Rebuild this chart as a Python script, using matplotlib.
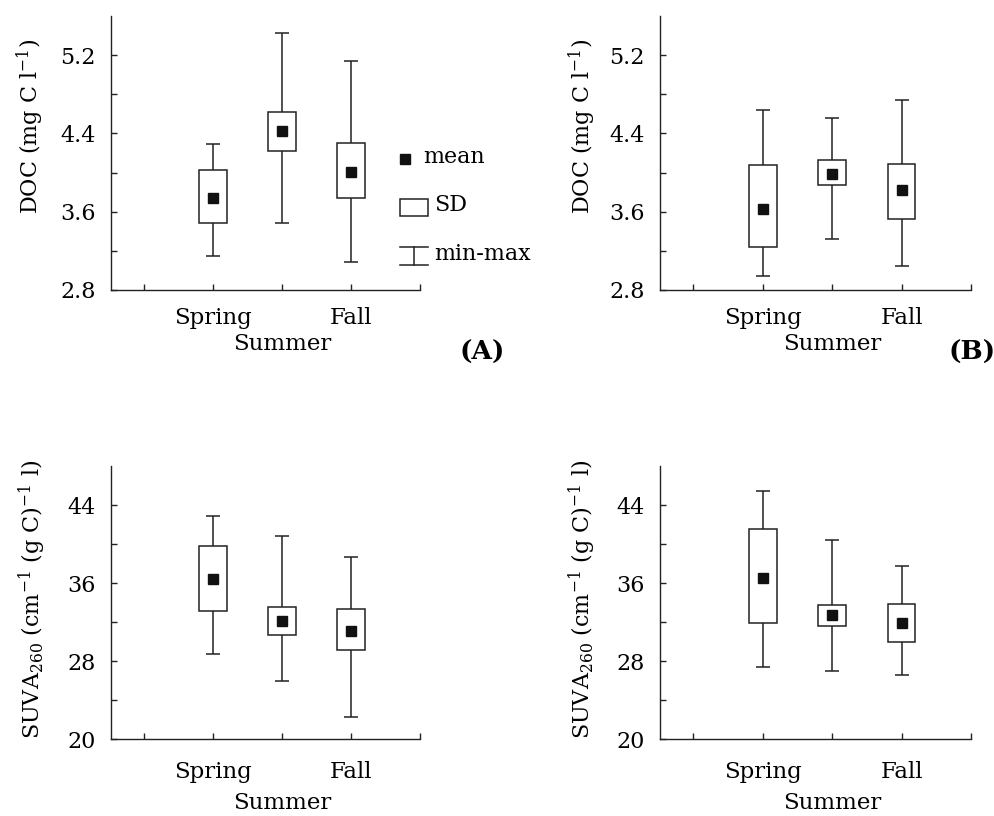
import matplotlib
matplotlib.use("Agg")
import matplotlib.pyplot as plt
from matplotlib.lines import Line2D
from matplotlib.patches import Rectangle

plt.rcParams['font.family'] = ['DejaVu Serif']
plt.rcParams['mathtext.fontset'] = 'dejavuserif'

categories = ['Spring', 'Summer', 'Fall']
positions = [1, 2, 3]

# Panel A: DOC
doc_a_min = [3.15, 3.48, 3.09]
doc_a_sdlo = [3.48, 4.22, 3.74]
doc_a_mean = [3.74, 4.42, 4.01]
doc_a_sdhi = [4.03, 4.62, 4.30]
doc_a_max = [4.29, 5.43, 5.14]

# Panel B: DOC
doc_b_min = [2.94, 3.32, 3.05]
doc_b_sdlo = [3.24, 3.87, 3.53]
doc_b_mean = [3.63, 3.99, 3.82]
doc_b_sdhi = [4.08, 4.13, 4.09]
doc_b_max = [4.64, 4.56, 4.74]

# Panel C: SUVA260
suva_c_min = [28.75, 26.0, 22.3]
suva_c_sdlo = [33.1, 30.7, 29.1]
suva_c_mean = [36.4, 32.1, 31.1]
suva_c_sdhi = [39.8, 33.5, 33.3]
suva_c_max = [42.9, 40.8, 38.7]

# Panel D: SUVA260
suva_d_min = [27.35, 27.0, 26.6]
suva_d_sdlo = [31.9, 31.6, 30.0]
suva_d_mean = [36.5, 32.75, 31.9]
suva_d_sdhi = [41.5, 33.7, 33.85]
suva_d_max = [45.4, 40.4, 37.7]

doc_ticks = [2.8, 3.6, 4.4, 5.2]
suva_ticks = [20, 28, 36, 44]

W, H = 995, 816
fig = plt.figure(figsize=(W / 100, H / 100), dpi=100)
LC = '#222222'
FS = 16
XFS = 16.5


def px_axes(left, right, top, bottom):
    return fig.add_axes([left / W, 1 - bottom / H, (right - left) / W, (bottom - top) / H])


def draw_panel(ax, mn, lo, mean, hi, mx, ylim, yticks, minor, pad1, pad2):
    bw, cw = 0.4, 0.2
    ax.bar(positions, [h - l for h, l in zip(hi, lo)], bottom=lo, width=bw,
           facecolor='white', edgecolor=LC, linewidth=1.1, zorder=3)
    ax.vlines(positions, hi, mx, color=LC, linewidth=1.1, zorder=2)
    ax.vlines(positions, mn, lo, color=LC, linewidth=1.1, zorder=2)
    for p, a, b in zip(positions, mn, mx):
        ax.hlines([a, b], p - cw / 2, p + cw / 2, color=LC, linewidth=1.1, zorder=2)
    ax.plot(positions, mean, 's', color='#111111', markersize=7, zorder=4)
    ax.set_xlim(-0.48, 4)
    ax.set_ylim(*ylim)
    ax.set_yticks(yticks)
    ax.set_yticks(minor, minor=True)
    ax.set_yticklabels([f'{t:g}' if isinstance(t, int) else f'{t:.1f}' for t in yticks])
    ax.set_xticks([0, 1, 2, 3, 4])
    ax.set_xticklabels(['', categories[0], '', categories[2], ''])
    ax.xaxis.remove_overlapping_locs = False
    ax.set_xticks([positions[1]], minor=True)
    ax.set_xticklabels([categories[1]], minor=True)
    ax.spines['top'].set_visible(False)
    ax.spines['right'].set_visible(False)
    for s in ('left', 'bottom'):
        ax.spines[s].set_color(LC)
        ax.spines[s].set_linewidth(1.0)
    ax.tick_params(direction='in', length=4, width=1.0, color=LC)
    ax.tick_params(axis='y', which='major', labelsize=FS, pad=11)
    ax.tick_params(axis='y', which='minor', direction='in', length=4, width=1.0, color=LC)
    ax.tick_params(axis='x', which='major', pad=pad1, labelsize=XFS)
    ax.tick_params(axis='x', which='minor', length=0, pad=pad2, labelsize=XFS)


axA = px_axes(111, 420, 16, 290)
axB = px_axes(660, 971, 16, 290)
axC = px_axes(111, 420, 466, 739)
axD = px_axes(660, 971, 466, 739)

draw_panel(axA, doc_a_min, doc_a_sdlo, doc_a_mean, doc_a_sdhi, doc_a_max,
           (2.8, 5.6), doc_ticks, [3.2, 4.0, 4.8], 12, 31)
draw_panel(axB, doc_b_min, doc_b_sdlo, doc_b_mean, doc_b_sdhi, doc_b_max,
           (2.8, 5.6), doc_ticks, [3.2, 4.0, 4.8], 12, 31)
draw_panel(axC, suva_c_min, suva_c_sdlo, suva_c_mean, suva_c_sdhi, suva_c_max,
           (20, 48), suva_ticks, [24, 32, 40], 16, 38)
draw_panel(axD, suva_d_min, suva_d_sdlo, suva_d_mean, suva_d_sdhi, suva_d_max,
           (20, 48), suva_ticks, [24, 32, 40], 16, 38)


def ftext(px, py, s, **kw):
    fig.text(px / W, 1 - py / H, s, **kw)


doc_label = r'DOC (mg C l$^{-1}$)'
suva_label = r'SUVA$_{260}$ (cm$^{-1}$ (g C)$^{-1}$ l)'
ftext(30, 126, doc_label, rotation=90, ha='center', va='center', fontsize=FS)
ftext(582, 126, doc_label, rotation=90, ha='center', va='center', fontsize=FS)
ftext(32, 599, suva_label, rotation=90, ha='center', va='center', fontsize=FS)
ftext(582, 599, suva_label, rotation=90, ha='center', va='center', fontsize=FS)

ftext(482, 352, '(A)', ha='center', va='center', fontsize=19, fontweight='bold')
ftext(972, 352, '(B)', ha='center', va='center', fontsize=19, fontweight='bold')

# Legend (panel A)
tf = fig.transFigure
fig.add_artist(Line2D([405.5 / W], [1 - 159 / H], marker='s', color='#111111',
                      markersize=7, linestyle='none', transform=tf))
ftext(423, 157, 'mean', ha='left', va='center', fontsize=FS)
fig.add_artist(Rectangle((400 / W, 1 - 216 / H), 28 / W, 17 / H, facecolor='white',
                         edgecolor=LC, linewidth=1.1, transform=tf))
ftext(434, 205, 'SD', ha='left', va='center', fontsize=FS)
for yy in (247, 265):
    fig.add_artist(Line2D([400 / W, 428 / W], [1 - yy / H, 1 - yy / H], color=LC,
                          linewidth=1.1, transform=tf))
fig.add_artist(Line2D([414 / W, 414 / W], [1 - 247 / H, 1 - 265 / H], color=LC,
                      linewidth=1.1, transform=tf))
ftext(434, 254, 'min-max', ha='left', va='center', fontsize=FS)

fig.savefig('out.png', dpi=100)
